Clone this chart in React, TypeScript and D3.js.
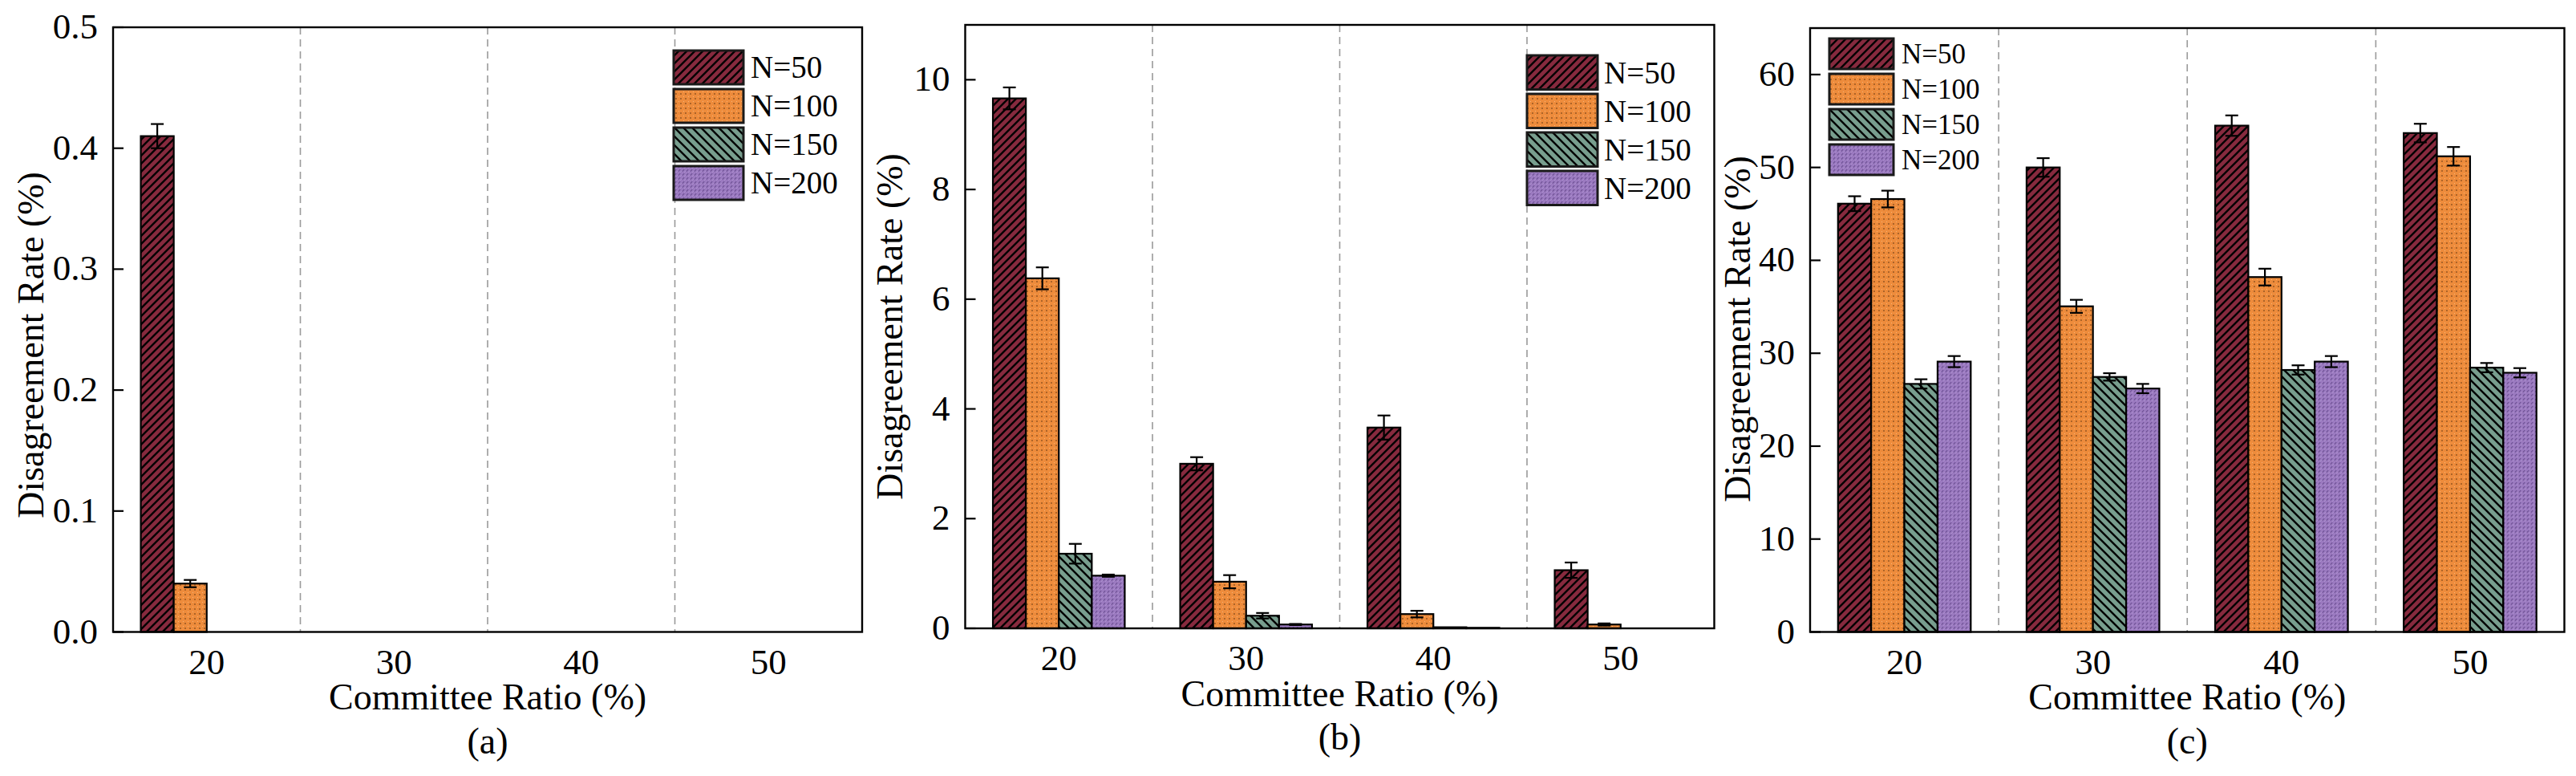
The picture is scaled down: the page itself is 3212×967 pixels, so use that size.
import React from "react";
import * as d3 from "d3";

const categories = ["20", "30", "40", "50"];
const seriesNames = ["N=50", "N=100", "N=150", "N=200"];
const seriesColors = ["#872A3E", "#EE8C3C", "#789E8E", "#9B7AC0"];

// Panel (a)
const a50 = [0.41, 0, 0, 0];
const a50Err = [0.01, 0, 0, 0];
const a100 = [0.04, 0, 0, 0];
const a100Err = [0.003, 0, 0, 0];
const a150 = [0, 0, 0, 0];
const a150Err = [0, 0, 0, 0];
const a200 = [0, 0, 0, 0];
const a200Err = [0, 0, 0, 0];
const aTicks = [0, 0.1, 0.2, 0.3, 0.4, 0.5];

// Panel (b)
const b50 = [9.66, 3.0, 3.66, 1.06];
const b50Err = [0.2, 0.12, 0.22, 0.14];
const b100 = [6.38, 0.85, 0.26, 0.07];
const b100Err = [0.2, 0.12, 0.06, 0.02];
const b150 = [1.36, 0.23, 0.02, 0];
const b150Err = [0.18, 0.05, 0, 0];
const b200 = [0.96, 0.07, 0.01, 0];
const b200Err = [0.02, 0.01, 0, 0];
const bTicks = [0, 2, 4, 6, 8, 10];

// Panel (c)
const c50 = [46.1, 50.0, 54.5, 53.7];
const c50Err = [0.8, 1.0, 1.1, 1.0];
const c100 = [46.6, 35.05, 38.2, 51.2];
const c100Err = [0.9, 0.7, 0.9, 1.0];
const c150 = [26.7, 27.45, 28.2, 28.45];
const c150Err = [0.5, 0.4, 0.5, 0.5];
const c200 = [29.1, 26.2, 29.1, 27.9];
const c200Err = [0.6, 0.5, 0.6, 0.5];
const cTicks = [0, 10, 20, 30, 40, 50, 60];

const FONT = "'Liberation Serif', 'Times New Roman', serif";

type Legend = { x: number; y: number; w: number; h: number; step: number; font: number; textX: number };
type Panel = {
  label: string;
  left: number; right: number; top: number; bottom: number;
  ymax: number; ticks: number[]; fmt: (v: number) => string;
  values: number[][]; errors: number[][];
  legend: Legend;
  yTitleX: number; yTitleY: number;
};

const panels: Panel[] = [
  {
    label: "(a)", left: 141, right: 1075, top: 34, bottom: 787.5,
    ymax: 0.5, ticks: aTicks, fmt: d3.format(".1f"),
    values: [a50, a100, a150, a200], errors: [a50Err, a100Err, a150Err, a200Err],
    legend: { x: 840, y: 63, w: 87, h: 42, step: 48, font: 39, textX: 936 },
    yTitleX: 54, yTitleY: 430,
  },
  {
    label: "(b)", left: 1203.5, right: 2137.5, top: 31, bottom: 783,
    ymax: 11, ticks: bTicks, fmt: d3.format("d"),
    values: [b50, b100, b150, b200], errors: [b50Err, b100Err, b150Err, b200Err],
    legend: { x: 1904, y: 69, w: 88, h: 42.5, step: 48, font: 39, textX: 2000 },
    yTitleX: 1125, yTitleY: 407,
  },
  {
    label: "(c)", left: 2257, right: 3197.5, top: 35, bottom: 787.5,
    ymax: 65, ticks: cTicks, fmt: d3.format("d"),
    values: [c50, c100, c150, c200], errors: [c50Err, c100Err, c150Err, c200Err],
    legend: { x: 2281, y: 48, w: 80, h: 38, step: 44, font: 35, textX: 2371 },
    yTitleX: 2182, yTitleY: 410,
  },
];

function Patterns() {
  return (
    <defs>
      <pattern id="pat0" patternUnits="userSpaceOnUse" width={10} height={10}>
        <rect width={10} height={10} fill={seriesColors[0]} />
        <path d="M-2,2 L2,-2 M0,10 L10,0 M8,12 L12,8" stroke="#000" strokeWidth={2.4} />
      </pattern>
      <pattern id="pat1" patternUnits="userSpaceOnUse" width={6} height={6}>
        <rect width={6} height={6} fill={seriesColors[1]} />
        <circle cx={3} cy={3} r={0.9} fill="#6a3a12" opacity={0.75} />
        <path d="M0,0 L1,1 M1,0 L0,1" stroke="#f6c08a" strokeWidth={0.8} opacity={0.8} />
        <circle cx={0} cy={3} r={0.5} fill="#c86a22" opacity={0.6} />
      </pattern>
      <pattern id="pat2" patternUnits="userSpaceOnUse" width={11} height={11}>
        <rect width={11} height={11} fill={seriesColors[2]} />
        <path d="M-2,9 L2,13 M0,0 L11,11 M9,-2 L13,2" stroke="#000" strokeWidth={2.4} />
      </pattern>
      <pattern id="pat3" patternUnits="userSpaceOnUse" width={5} height={5}>
        <rect width={5} height={5} fill={seriesColors[3]} />
        <path d="M0.8,3.6 L3.2,1.2" stroke="#5e4384" strokeWidth={1.1} opacity={0.8} />
        <path d="M3.4,4.6 L4.6,3.4" stroke="#c9b3e6" strokeWidth={0.8} opacity={0.8} />
      </pattern>
    </defs>
  );
}

function PanelView({ p }: { p: Panel }) {
  const x = d3.scaleBand<string>().domain(categories).range([p.left, p.right]).padding(0);
  const y = d3.scaleLinear().domain([0, p.ymax]).range([p.bottom, p.top]);
  const bw = x.bandwidth() * 0.176;
  const cx = (c: string) => (x(c) as number) + x.bandwidth() / 2;
  const inner = (c: string) =>
    d3.scaleBand<string>().domain(seriesNames).range([cx(c) - 2 * bw, cx(c) + 2 * bw]).padding(0);
  const midX = (p.left + p.right) / 2;
  const capW = 16;

  return (
    <g>
      {/* dashed separators */}
      {categories.slice(1).map((c) => (
        <line key={"sep" + c} x1={x(c)} x2={x(c)} y1={p.top} y2={p.bottom}
          stroke="#9a9a9a" strokeWidth={1.6} strokeDasharray="9,6" />
      ))}
      {/* bars */}
      {seriesNames.map((s, si) =>
        categories.map((c, ci) => {
          const v = p.values[si][ci];
          if (v <= 0) return null;
          const bx = inner(c)(s) as number;
          return (
            <rect key={s + c} x={bx} y={y(v)} width={inner(c).bandwidth()} height={Math.max(p.bottom - y(v), 0.5)}
              fill={`url(#pat${si})`} stroke="#000" strokeWidth={2.2} />
          );
        })
      )}
      {/* error bars */}
      {seriesNames.map((s, si) =>
        categories.map((c, ci) => {
          const v = p.values[si][ci];
          const e = p.errors[si][ci];
          if (v <= 0 || e <= 0) return null;
          const ex = (inner(c)(s) as number) + inner(c).bandwidth() / 2;
          const y1 = y(v + e), y2 = y(v - e);
          return (
            <g key={"e" + s + c} stroke="#000" strokeWidth={2.2}>
              <line x1={ex} x2={ex} y1={y1} y2={y2} />
              <line x1={ex - capW / 2} x2={ex + capW / 2} y1={y1} y2={y1} />
              <line x1={ex - capW / 2} x2={ex + capW / 2} y1={y2} y2={y2} />
            </g>
          );
        })
      )}
      {/* frame */}
      <rect x={p.left} y={p.top} width={p.right - p.left} height={p.bottom - p.top}
        fill="none" stroke="#000" strokeWidth={2.4} />
      {/* y ticks */}
      {p.ticks.map((t) => (
        <g key={"t" + t}>
          <line x1={p.left} x2={p.left + 13} y1={y(t)} y2={y(t)} stroke="#000" strokeWidth={2.2} />
          <text x={p.left - 19} y={y(t) + 14} textAnchor="end" fontSize={45} fontFamily={FONT} fill="#000">
            {p.fmt(t)}
          </text>
        </g>
      ))}
      {/* x tick labels */}
      {categories.map((c) => (
        <text key={"x" + c} x={cx(c)} y={p.bottom + 52} textAnchor="middle" fontSize={45} fontFamily={FONT} fill="#000">
          {c}
        </text>
      ))}
      {/* axis titles */}
      <text x={midX} y={p.bottom + 96.5} textAnchor="middle" fontSize={46} fontFamily={FONT} fill="#000">
        Committee Ratio (%)
      </text>
      <text transform={`translate(${p.yTitleX},${p.yTitleY}) rotate(-90)`} textAnchor="middle"
        fontSize={46} fontFamily={FONT} fill="#000">
        Disagreement Rate (%)
      </text>
      <text x={midX} y={p.bottom + 151} textAnchor="middle" fontSize={46} fontFamily={FONT} fill="#000">
        {p.label}
      </text>
      {/* legend */}
      {seriesNames.map((s, si) => {
        const ly = p.legend.y + si * p.legend.step;
        return (
          <g key={"l" + s}>
            <rect x={p.legend.x} y={ly} width={p.legend.w} height={p.legend.h}
              fill={`url(#pat${si})`} stroke="#1a1a1a" strokeWidth={3} />
            <text x={p.legend.textX} y={ly + p.legend.h / 2 + p.legend.font * 0.34}
              fontSize={p.legend.font} fontFamily={FONT} fill="#000">
              {s}
            </text>
          </g>
        );
      })}
    </g>
  );
}

export default function App() {
  return (
    <svg width={3212} height={967} viewBox="0 0 3212 967"
      style={{ position: "absolute", left: 0, top: 0, background: "#fff" }}>
      <rect width={3212} height={967} fill="#fff" />
      <Patterns />
      {panels.map((p) => (
        <PanelView key={p.label} p={p} />
      ))}
    </svg>
  );
}
